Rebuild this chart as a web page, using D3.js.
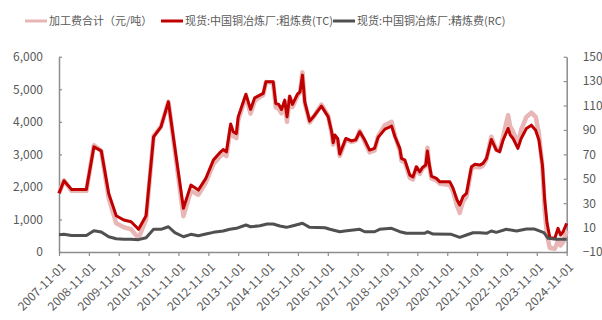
<!DOCTYPE html>
<html><head><meta charset="utf-8">
<script src="https://cdn.jsdelivr.net/npm/d3@7"></script>
<style>
body{margin:0;background:#fff;}
text{font-family:"Noto Sans CJK SC","Noto Sans",sans-serif;fill:#595959;}
</style></head>
<body><svg id="c" width="602" height="320"></svg>
<script>
// ---- data ----
const seriesNames = ["加工费合计（元/吨）","现货:中国铜冶炼厂:粗炼费(TC)","现货:中国铜冶炼厂:精炼费(RC)"];
const xTickLabels = ["2007-11-01","2008-11-01","2009-11-01","2010-11-01","2011-11-01","2012-11-01","2013-11-01","2014-11-01","2015-11-01","2016-11-01","2017-11-01","2018-11-01","2019-11-01","2020-11-01","2021-11-01","2022-11-01","2023-11-01","2024-11-01"];
const leftTicks = [0,1000,2000,3000,4000,5000,6000];
const rightTicks = [-10,10,30,50,70,90,110,130,150];

const tcDates = ["2007-11-01","2008-01-01","2008-04-01","2008-10-01","2009-01-01","2009-04-01","2009-07-01","2009-10-01","2010-01-01","2010-04-01","2010-07-01","2010-10-01","2011-01-01","2011-04-01","2011-07-01","2012-01-01","2012-04-01","2012-07-01","2012-10-01","2013-01-01","2013-04-01","2013-05-01","2013-06-10","2013-08-01","2013-09-01","2013-10-10","2013-11-01","2014-02-03","2014-04-01","2014-05-22","2014-07-24","2014-09-03","2014-10-06","2015-01-03","2015-02-03","2015-03-12","2015-04-15","2015-05-24","2015-06-21","2015-07-24","2015-08-27","2015-10-27","2015-11-27","2015-12-27","2016-01-24","2016-03-24","2016-05-24","2016-08-15","2016-11-06","2016-12-18","2017-01-06","2017-01-27","2017-03-01","2017-03-27","2017-06-09","2017-08-18","2017-10-09","2017-11-27","2018-01-27","2018-03-27","2018-05-27","2018-07-09","2018-10-01","2018-12-21","2019-02-01","2019-04-01","2019-04-21","2019-06-01","2019-08-01","2019-09-09","2019-10-21","2019-12-01","2020-01-03","2020-02-12","2020-03-03","2020-03-24","2020-04-21","2020-06-21","2020-08-03","2020-10-03","2020-12-03","2021-01-12","2021-03-01","2021-04-03","2021-05-12","2021-06-24","2021-08-24","2021-10-03","2021-12-03","2022-01-12","2022-02-24","2022-04-24","2022-06-24","2022-08-03","2022-09-15","2022-11-15","2022-12-12","2023-01-15","2023-03-15","2023-04-24","2023-06-27","2023-08-27","2023-10-18","2023-11-27","2024-01-09","2024-02-06","2024-03-06","2024-04-09","2024-06-09","2024-07-18","2024-08-18","2024-09-18","2024-11-01"];
const tcValues = [38,48.4,41.3,41.3,76.2,72.9,38,19.7,16.2,14.8,8.6,19.7,84.4,92.5,113,25.8,44.8,40.7,50.3,65.3,72.1,74,72,94.8,88.5,87,100.7,119.3,106.8,116.3,118.5,119.9,129.4,129.4,111.7,110.9,106.8,114.4,100.7,117.7,110.9,119.3,121.2,134.9,113,97.2,102.1,109.5,100.7,88.5,79.5,85.8,83,70.2,83,81,82,88.5,81.7,73.5,74.9,83.9,90.7,93.1,84.4,74.9,66.7,65.3,53,51.6,59.8,55.7,59.3,61.2,72.7,62.6,52.2,50.3,47.5,47.5,47.5,42.1,32.6,28.5,35.3,38,59.8,61.8,61.2,62.6,66.7,82.2,73.5,72.1,81.7,91.2,85.8,83,74.9,83,91.2,93.9,89.8,81.7,61.2,32.6,13.5,1.7,1.2,9.4,3.9,6.6,13.5];
const totalValues = [1800,2200,1880,1880,3280,3100,1650,880,760,700,420,1000,3560,3850,4620,1100,1880,1760,2130,2700,2960,3030,2950,3820,3560,3500,4050,4780,4250,4640,4760,4820,5220,5200,4450,4400,4260,4600,4000,4760,4450,4800,4900,5520,4580,3980,4200,4530,4180,3650,3300,3560,3450,2950,3450,3380,3420,3720,3380,3060,3120,3560,3900,4000,3560,3120,2800,2760,2280,2230,2600,2400,2560,2640,3200,2680,2260,2200,2100,2080,2060,1850,1420,1200,1550,1700,2560,2620,2600,2650,2850,3540,3150,3100,3550,4200,3850,3700,3350,3750,4150,4280,4150,3650,2600,1300,500,120,100,350,200,300,650];

const rcDates = ["2007-11-01","2008-01-01","2008-04-01","2008-10-01","2009-01-01","2009-04-01","2009-07-01","2009-10-01","2010-01-01","2010-04-01","2010-07-01","2010-10-01","2011-01-01","2011-04-01","2011-07-01","2011-09-18","2012-01-01","2012-04-01","2012-07-01","2012-10-01","2013-01-01","2013-05-01","2013-07-21","2013-10-10","2014-02-03","2014-04-01","2014-07-24","2014-10-20","2015-01-03","2015-03-25","2015-06-15","2015-09-03","2015-12-27","2016-03-24","2016-09-27","2016-11-27","2017-03-27","2017-05-27","2017-11-27","2018-01-27","2018-05-27","2018-07-27","2018-12-21","2019-04-01","2019-06-21","2020-02-01","2020-03-03","2020-05-12","2020-12-21","2021-04-03","2021-06-24","2021-09-12","2021-12-03","2022-02-24","2022-04-24","2022-06-24","2022-10-24","2023-02-27","2023-06-27","2023-10-06","2024-01-27","2024-03-18","2024-06-27","2024-11-01"];
const rcValues = [4.2,4.6,3.5,3.5,7.4,6.4,2.5,0.9,0.4,0.4,0.1,1.7,8.6,8.6,10.7,5.8,2.5,4.5,3.3,4.7,6.1,7.2,8.6,9.4,12.1,10.7,11.5,12.9,12.9,11.3,10.2,11.5,13.5,10.2,9.9,8.6,6.6,7.2,8.6,6.6,6.6,8.6,9.4,6.6,5.3,5.3,6.6,4.7,4.5,2.0,3.9,5.8,5.8,5.3,7.2,6.1,8.6,7.2,8.8,8.8,5.8,1.2,0.4,0.4];

const colors = ["#e9b6b6","#c00000","#505050"];

// ---- chart ----
const parse = d3.timeParse("%Y-%m-%d");
const svg = d3.select("#c");
const x = d3.scaleTime().domain([parse("2007-11-01"), parse("2024-11-01")]).range([59, 566.7]);
const yL = d3.scaleLinear().domain([0, 6000]).range([252, 56.7]);
const yR = d3.scaleLinear().domain([-10, 150]).range([252, 56.7]);
const axisColor = "#8c8c8c";

// left axis
const gL = svg.append("g").attr("transform","translate(59,0)")
  .call(d3.axisLeft(yL).tickValues(leftTicks).tickFormat(d3.format(",")).tickSizeInner(-3).tickSizeOuter(0).tickPadding(16));
// right axis
const gR = svg.append("g").attr("transform","translate(566.7,0)")
  .call(d3.axisRight(yR).tickValues(rightTicks).tickSizeInner(-3).tickSizeOuter(0).tickPadding(16));
// bottom axis
const gB = svg.append("g").attr("transform","translate(0,252)")
  .call(d3.axisBottom(x).tickValues(xTickLabels.map(parse)).tickFormat(d3.timeFormat("%Y-%m-%d")).tickSizeInner(4).tickSizeOuter(0).tickPadding(2));
[gL,gR,gB].forEach(g=>{
  g.select(".domain").attr("stroke",axisColor).attr("stroke-width",1.5);
  g.selectAll(".tick line").attr("stroke",axisColor).attr("stroke-width",1.2);
  g.selectAll("text").attr("fill","#595959").style("font-size","12px").attr("font-family",null);
});
gB.selectAll("text")
  .attr("text-anchor","end")
  .attr("dy","0.35em")
  .attr("transform","translate(4,13) rotate(-45)")
  .attr("y",0).attr("x",0);

// lines
const lineL = d3.line().x(d=>x(d[0])).y(d=>yL(d[1]));
const lineR = d3.line().x(d=>x(d[0])).y(d=>yR(d[1]));
const totalData = tcDates.map((d,i)=>[parse(d), totalValues[i]]);
const tcData = tcDates.map((d,i)=>[parse(d), tcValues[i]]);
const rcData = rcDates.map((d,i)=>[parse(d), rcValues[i]]);
svg.append("path").attr("d", lineL(totalData)).attr("fill","none").attr("stroke",colors[0]).attr("stroke-width",4.5).attr("stroke-linejoin","round");
svg.append("path").attr("d", lineR(tcData)).attr("fill","none").attr("stroke",colors[1]).attr("stroke-width",3).attr("stroke-linejoin","round");
svg.append("path").attr("d", lineR(rcData)).attr("fill","none").attr("stroke",colors[2]).attr("stroke-width",3).attr("stroke-linejoin","round");

// legend
const legX = [25, 161, 333];
const leg = svg.append("g");
seriesNames.forEach((n,i)=>{
  leg.append("line").attr("x1",legX[i]).attr("x2",legX[i]+22).attr("y1",21).attr("y2",21)
    .attr("stroke",colors[i]).attr("stroke-width",3);
  leg.append("text").attr("x",legX[i]+24).attr("y",21).attr("dy","0.35em")
    .style("font-size","11px").text(n);
});
</script></body></html>
